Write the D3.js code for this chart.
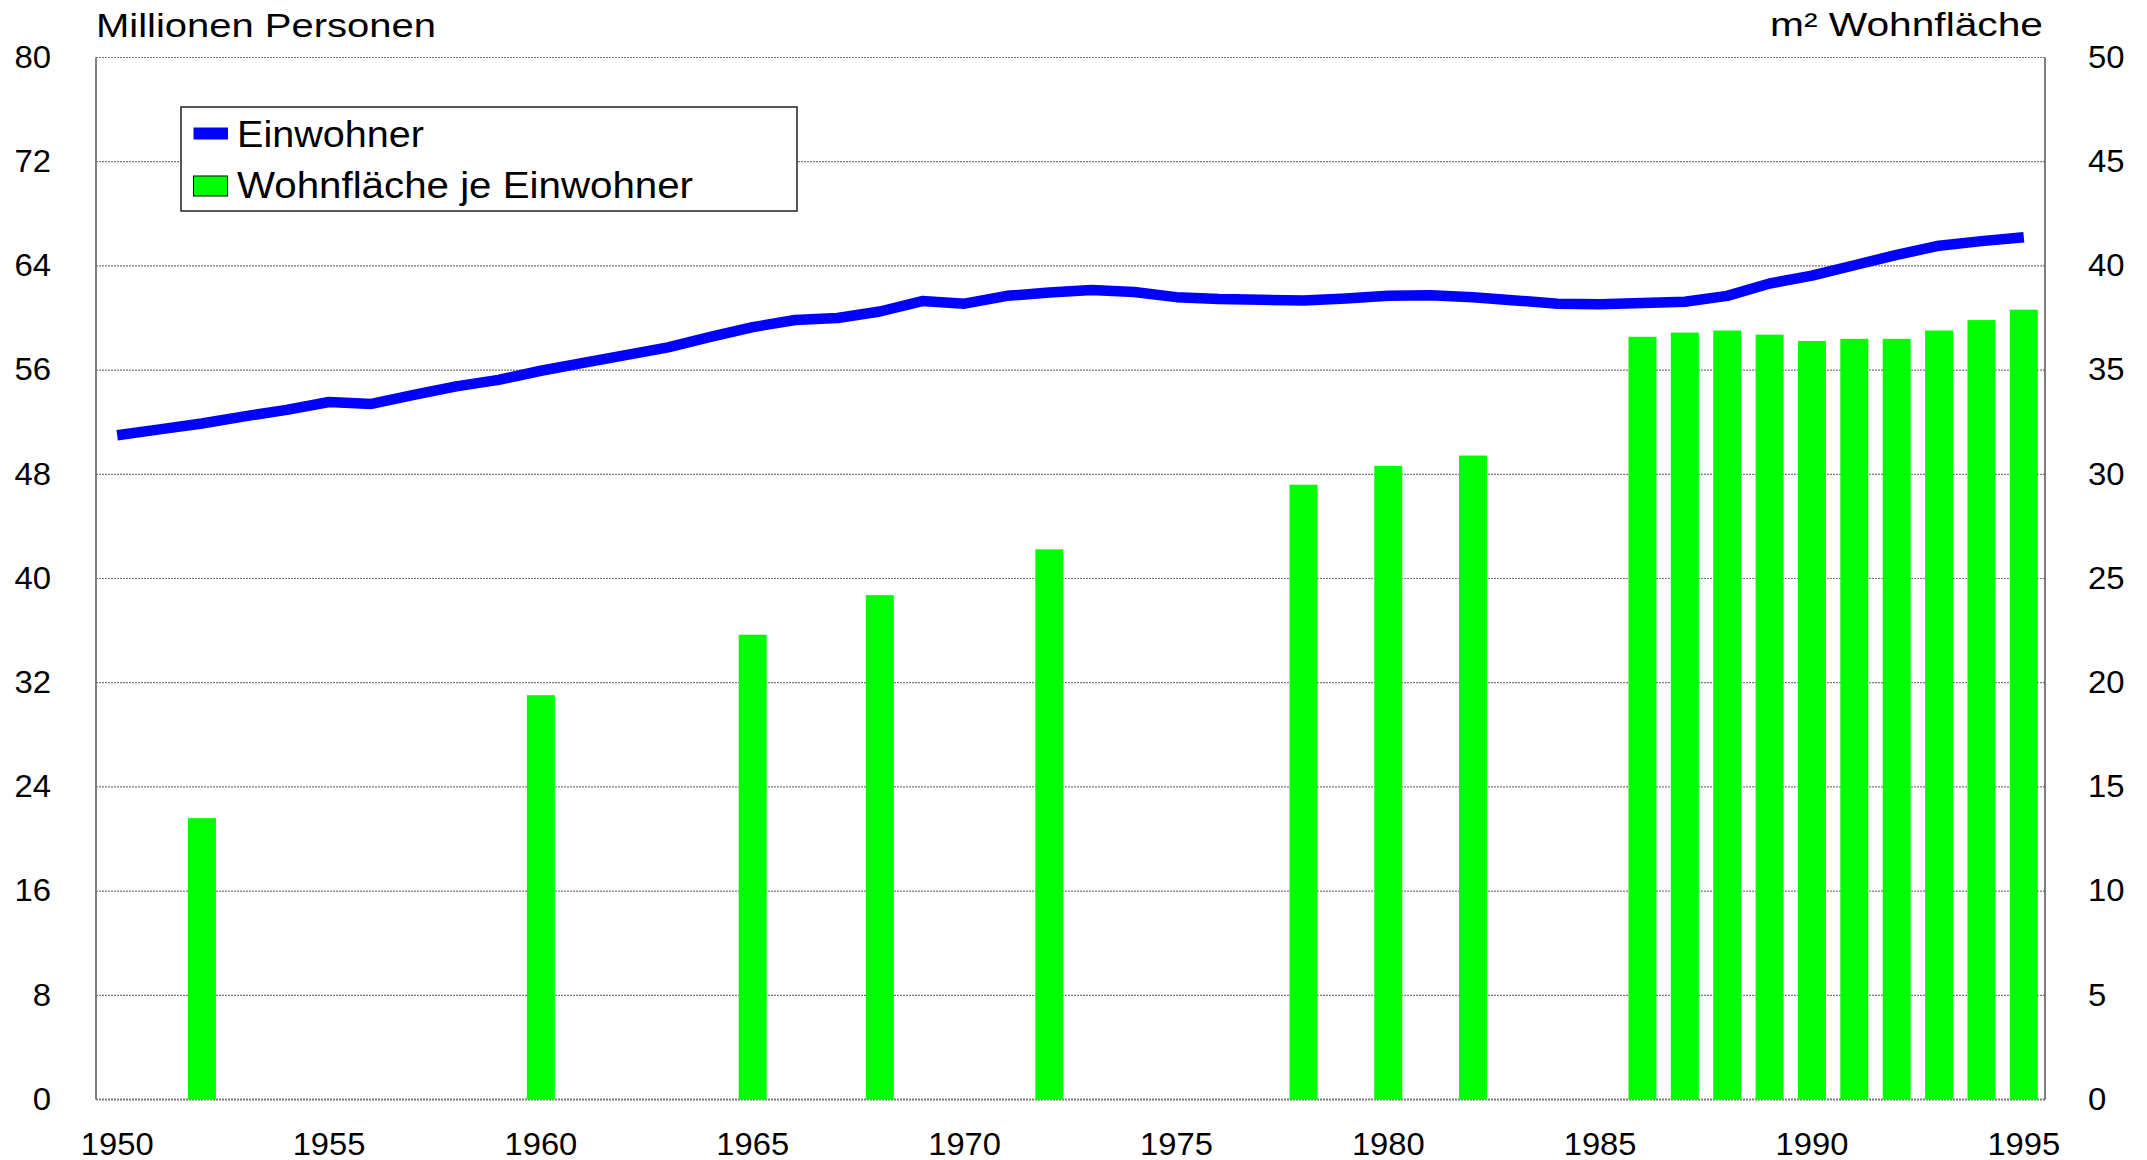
<!DOCTYPE html>
<html>

<script src="https://cdn.jsdelivr.net/npm/d3@7"></script>

<style>

  body, html {
    padding: 0;
    margin: 0;
    background: #fff;
  }

  svg {
    display: block;
    font-family: "Liberation Sans", Arial, sans-serif;
  }

</style>

<body>
  <svg width="2147" height="1160"></svg>

  <script>

    // population (millions) per year, 1950 - 1995
    var years = d3.range(1950, 1996);
    var einwohner = [
      51.0, 51.45, 51.9, 52.45, 52.95, 53.55, 53.4, 54.1, 54.75, 55.25,
      55.95, 56.55, 57.15, 57.75, 58.55, 59.3, 59.85, 60.0, 60.5, 61.3,
      61.1, 61.7, 61.95, 62.15, 62.0, 61.6, 61.45, 61.4, 61.35, 61.5,
      61.7, 61.75, 61.6, 61.35, 61.1, 61.05, 61.15, 61.25, 61.7, 62.65,
      63.25, 64.05, 64.85, 65.55, 65.9, 66.2
    ];

    // living space per inhabitant (m²), only some years
    var flaecheJahre = [1952, 1960, 1965, 1968, 1972, 1978, 1980, 1982,
      1986, 1987, 1988, 1989, 1990, 1991, 1992, 1993, 1994, 1995];
    var flaeche = [13.5, 19.4, 22.3, 24.2, 26.4, 29.5, 30.4, 30.9,
      36.6, 36.8, 36.9, 36.7, 36.4, 36.5, 36.5, 36.9, 37.4, 37.9];

    var leftTicks = d3.range(0, 81, 8),
        rightTicks = d3.range(0, 51, 5),
        yearTicks = d3.range(1950, 1996, 5);

    // plot box (window.top is read-only, so no plain "top")
    var plotL = 96, plotR = 2045, plotT = 57.5, plotB = 1099.5;

    var svg = d3.select('svg');

    var x = d3.scaleBand().domain(years).range([plotL, plotR])
          .paddingInner(0.34).paddingOuter(0.17),
        yL = d3.scaleLinear().domain([0, 80]).range([plotB, plotT]),
        yR = d3.scaleLinear().domain([0, 50]).range([plotB, plotT]);

    var cx = function(yr) { return x(yr) + x.bandwidth() / 2; };

    // gridlines
    svg.append('g').selectAll('line')
      .data(leftTicks)
      .enter().append('line')
        .attr('x1', plotL).attr('x2', plotR)
        .attr('y1', yL).attr('y2', yL)
        .attr('stroke', '#7a7a7a')
        .attr('stroke-width', function(d) { return d === 0 ? 2 : 1.2; })
        .attr('stroke-dasharray', '2,1');

    // frame sides
    svg.append('line')
      .attr('x1', plotL).attr('x2', plotL).attr('y1', plotT).attr('y2', plotB)
      .attr('stroke', '#808080').attr('stroke-width', 2);
    svg.append('line')
      .attr('x1', plotR).attr('x2', plotR).attr('y1', plotT).attr('y2', plotB)
      .attr('stroke', '#555').attr('stroke-width', 1.5);

    // bars
    svg.append('g').selectAll('rect')
      .data(flaeche)
      .enter().append('rect')
        .attr('x', function(d, i) { return x(flaecheJahre[i]); })
        .attr('width', x.bandwidth())
        .attr('y', function(d) { return yR(d); })
        .attr('height', function(d) { return plotB - yR(d); })
        .attr('fill', '#00ff00');

    // population line
    var line = d3.line()
      .x(function(d, i) { return cx(years[i]); })
      .y(function(d) { return yL(d); });

    svg.append('path')
      .datum(einwohner)
      .attr('d', line)
      .attr('fill', 'none')
      .attr('stroke', '#0000ff')
      .attr('stroke-width', 10.5)
      .attr('stroke-linejoin', 'round');

    // axes, no domain and no tick marks
    function fitText(sel, w) {
      sel.selectAll('text')
        .attr('fill', '#000')
        .attr('textLength', function(d) { return String(d).length * w; })
        .attr('lengthAdjust', 'spacingAndGlyphs');
      sel.select('.domain').remove();
    }

    svg.append('g')
      .attr('transform', 'translate(' + plotL + ',0)')
      .call(d3.axisLeft(yL).tickValues(leftTicks).tickSize(0).tickPadding(45))
      .attr('font-size', 30.5)
      .attr('font-family', null)
      .call(fitText, 18.3);

    svg.append('g')
      .attr('transform', 'translate(' + plotR + ',0)')
      .call(d3.axisRight(yR).tickValues(rightTicks).tickSize(0).tickPadding(43))
      .attr('font-size', 30.5)
      .attr('font-family', null)
      .call(fitText, 18.3);

    svg.append('g')
      .attr('transform', 'translate(0,' + plotB + ')')
      .call(d3.axisBottom(x).tickValues(yearTicks).tickSize(0).tickPadding(34))
      .attr('font-size', 30.5)
      .attr('font-family', null)
      .call(fitText, 18.2);

    // axis titles
    svg.append('text')
      .attr('x', plotL).attr('y', 37)
      .attr('font-size', 32.5)
      .attr('textLength', 340).attr('lengthAdjust', 'spacingAndGlyphs')
      .text('Millionen Personen');

    svg.append('text')
      .attr('x', 2043).attr('y', 36)
      .attr('text-anchor', 'end')
      .attr('font-size', 32.5)
      .attr('textLength', 273).attr('lengthAdjust', 'spacingAndGlyphs')
      .text('m² Wohnfläche');

    // legend
    var legend = svg.append('g');

    legend.append('rect')
      .attr('x', 181).attr('y', 107).attr('width', 616).attr('height', 104)
      .attr('fill', '#fff').attr('stroke', '#222').attr('stroke-width', 1.5);

    legend.append('rect')
      .attr('x', 193.5).attr('y', 127.5).attr('width', 34.5).attr('height', 12)
      .attr('fill', '#0000ff');

    legend.append('rect')
      .attr('x', 193.5).attr('y', 176).attr('width', 34).attr('height', 20)
      .attr('fill', '#00ff00').attr('stroke', '#000').attr('stroke-width', 1);

    legend.append('text')
      .attr('x', 237).attr('y', 146.7)
      .attr('font-size', 36.5)
      .attr('textLength', 187).attr('lengthAdjust', 'spacingAndGlyphs')
      .text('Einwohner');

    legend.append('text')
      .attr('x', 237).attr('y', 198.3)
      .attr('font-size', 36.5)
      .attr('textLength', 456).attr('lengthAdjust', 'spacingAndGlyphs')
      .text('Wohnfläche je Einwohner');

  </script>
</body>
</html>
